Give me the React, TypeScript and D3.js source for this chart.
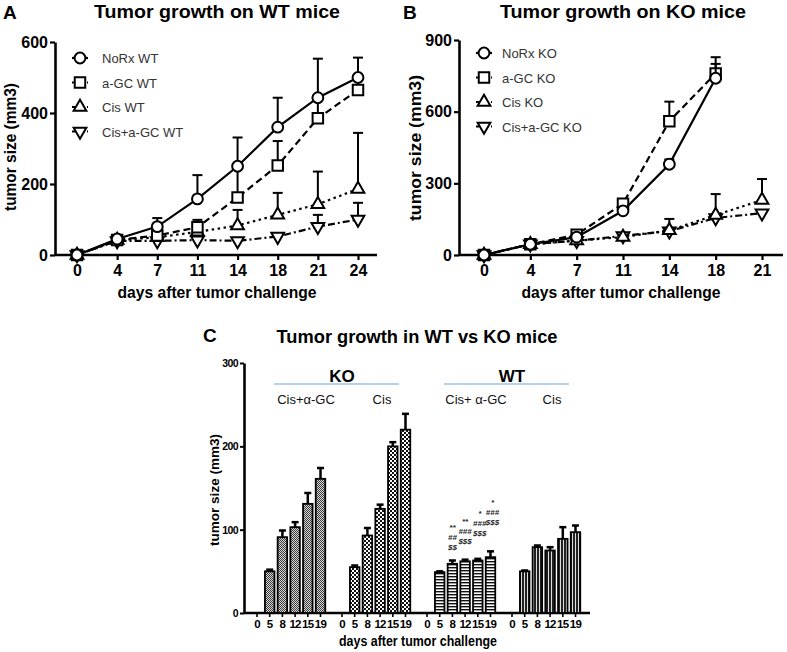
import { useEffect, useRef } from 'react';
import * as d3 from 'd3';

const FONT = 'Arial, "Liberation Sans", Helvetica, sans-serif';

// Panel A - WT mice
const daysA = ['0', '4', '7', '11', '14', '18', '21', '24'];
const namesA = ['NoRx WT', 'a-GC WT', 'Cis WT', 'Cis+a-GC WT'];
const norxWT = [0, 45, 80, 158, 250, 360, 443, 500];
const norxWTErr = [0, 4, 24, 67, 81, 83, 110, 56];
const agcWT = [0, 42, 55, 78, 162, 252, 385, 465];
const agcWTErr = [0, 4, 8, 21, 90, 69, 60, 40];
const cisWT = [0, 42, 50, 65, 83, 113, 143, 186];
const cisWTErr = [0, 3, 6, 15, 44, 62, 92, 158];
const cisAgcWT = [0, 40, 40, 42, 40, 52, 80, 100];
const cisAgcWTErr = [0, 3, 4, 5, 5, 6, 33, 47];
const ticksA = [0, 200, 400, 600];

// Panel B - KO mice
const daysB = ['0', '4', '7', '11', '14', '18', '21'];
const namesB = ['NoRx KO', 'a-GC KO', 'Cis KO', 'Cis+a-GC KO'];
const norxKO = [0, 45, 75, 185, 380, 740];
const norxKOErr = [0, 4, 10, 15, 20, 60];
const agcKO = [0, 45, 85, 215, 560, 760];
const agcKOErr = [0, 4, 10, 15, 82, 68];
const cisKO = [0, 45, 60, 75, 103, 167, 230];
const cisKOErr = [0, 4, 8, 8, 48, 88, 88];
const cisAgcKO = [0, 45, 60, 80, 100, 155, 175];
const cisAgcKOErr = [0, 4, 6, 8, 8, 10, 8];
const ticksB = [0, 300, 600, 900];

// Panel C - WT vs KO
const groupsC = ['KO Cis+α-GC', 'KO Cis', 'WT Cis+α-GC', 'WT Cis'];
const subLabelsC = ['Cis+α-GC', 'Cis', 'Cis+ α-GC', 'Cis'];
const headersC = ['KO', 'WT'];
const daysC = ['0', '5', '8', '12', '15', '19'];
const koCisAgc = [0, 50, 91, 103, 131, 161];
const koCisAgcErr = [0, 2, 8, 6, 13, 13];
const koCis = [0, 55, 93, 125, 200, 220];
const koCisErr = [0, 2, 9, 5, 5, 19];
const wtCisAgc = [0, 49, 59, 62, 63, 67];
const wtCisAgcErr = [0, 1, 4, 2, 2, 7];
const wtCis = [0, 50, 79, 75, 89, 97];
const wtCisErr = [0, 1, 2, 4, 14, 8];
const starsWT = ['', '', '**', '**', '*', '*'];
const hashWT = ['', '', '##', '###', '###', '###'];
const dollarWT = ['', '', '$$', '$$$', '$$$', '$$$'];
const sigLevelWT = [0, 0, 79, 86, 96, 109];
const ticksC = [0, 100, 200, 300];

const STYLES = [
  { symbol: 'circle', dash: null },
  { symbol: 'square', dash: '7,4' },
  { symbol: 'triUp', dash: '2.5,3.5' },
  { symbol: 'triDown', dash: '7,3,2,3' },
];

function symbolPath(kind: string) {
  if (kind === 'circle') return d3.symbol().type(d3.symbolCircle).size(92)();
  if (kind === 'square') return d3.symbol().type(d3.symbolSquare).size(110)();
  return d3.symbol().type(d3.symbolTriangle).size(70)();
}

function drawMarker(g: any, kind: string, cx: number, cy: number) {
  g.append('path')
    .attr('d', symbolPath(kind))
    .attr('transform', `translate(${cx},${cy})${kind === 'triDown' ? ' rotate(180)' : ''}`)
    .attr('fill', '#fff')
    .attr('stroke', '#000')
    .attr('stroke-width', 2);
}

function drawLinePanel(svg: any, cfg: any) {
  const x = d3.scalePoint<string>().domain(cfg.days).range(cfg.xRange);
  const yMax = cfg.ticks[cfg.ticks.length - 1];
  const y = d3.scaleLinear().domain([0, yMax]).range([cfg.bottom, cfg.top]);
  const g = svg.append('g');

  const yAxis = g.append('g')
    .attr('transform', `translate(${cfg.left},0)`)
    .call(d3.axisLeft(y).tickValues(cfg.ticks).tickSize(5).tickSizeOuter(0).tickPadding(2));
  yAxis.select('.domain').attr('stroke-width', 2.6);
  yAxis.selectAll('.tick line').attr('stroke-width', 2.2);
  yAxis.selectAll('.tick text')
    .attr('font-family', FONT).attr('font-size', 16).attr('font-weight', 'bold').attr('fill', '#000');

  g.append('line')
    .attr('x1', cfg.left).attr('x2', cfg.right)
    .attr('y1', cfg.bottom).attr('y2', cfg.bottom)
    .attr('stroke', '#000').attr('stroke-width', 2.6);
  const xAxis = g.append('g')
    .attr('transform', `translate(0,${cfg.bottom})`)
    .call(d3.axisBottom(x).tickSize(5).tickPadding(5));
  xAxis.select('.domain').remove();
  xAxis.selectAll('.tick line').attr('stroke-width', 2.2);
  xAxis.selectAll('.tick text')
    .attr('font-family', FONT).attr('font-size', 16).attr('font-weight', 'bold').attr('fill', '#000');

  [3, 2, 1, 0].forEach(si => {
    const st = STYLES[si];
    const pts = cfg.series[si].map((v: number, i: number) => ({ d: cfg.days[i], v, e: cfg.errors[si][i] }));
    const eb = g.append('g').attr('stroke', '#000').attr('stroke-width', 2);
    pts.filter((p: any) => p.e > 0).forEach((p: any) => {
      const px = x(p.d) as number;
      eb.append('line').attr('x1', px).attr('x2', px).attr('y1', y(p.v)).attr('y2', y(p.v + p.e));
      eb.append('line').attr('x1', px - 5).attr('x2', px + 5).attr('y1', y(p.v + p.e)).attr('y2', y(p.v + p.e));
    });
    g.append('path')
      .datum(pts)
      .attr('d', d3.line<any>().x(p => x(p.d) as number).y(p => y(p.v)))
      .attr('fill', 'none')
      .attr('stroke', '#000')
      .attr('stroke-width', 2.2)
      .attr('stroke-dasharray', st.dash);
    pts.forEach((p: any) => drawMarker(g, st.symbol, x(p.d) as number, y(p.v)));
  });

  cfg.names.forEach((name: string, i: number) => {
    const ly = cfg.legendY + i * 24.5;
    g.append('line')
      .attr('x1', cfg.legendX - 8).attr('x2', cfg.legendX + 8)
      .attr('y1', ly).attr('y2', ly)
      .attr('stroke', '#000').attr('stroke-width', 2.2)
      .attr('stroke-dasharray', STYLES[i].dash ? '3,2' : null);
    drawMarker(g, STYLES[i].symbol, cfg.legendX, ly);
    g.append('text')
      .attr('x', cfg.legendX + cfg.legendGap).attr('y', ly + 5)
      .attr('font-family', FONT).attr('font-size', 13).attr('fill', '#333')
      .text(name);
  });

  const t = (txt: string, xx: number, yy: number, size: number, len?: number, anchor = 'middle') => {
    const el = svg.append('text')
      .attr('x', xx).attr('y', yy)
      .attr('text-anchor', anchor)
      .attr('font-family', FONT).attr('font-size', size).attr('font-weight', 'bold')
      .text(txt);
    if (len) el.attr('textLength', len).attr('lengthAdjust', 'spacingAndGlyphs');
    return el;
  };
  t(cfg.letter, cfg.letterX, 19, 19, undefined, 'start');
  t(cfg.title, cfg.titleX, 18, 19, 246);
  t('days after tumor challenge', cfg.xTitleX, 298, 16, 199);
  svg.append('text')
    .attr('transform', `translate(${cfg.yTitleX},${cfg.yTitleY}) rotate(-90)`)
    .attr('text-anchor', 'middle')
    .attr('font-family', FONT).attr('font-size', cfg.yTitleSize).attr('font-weight', 'bold')
    .attr('textLength', cfg.yTitleLen).attr('lengthAdjust', 'spacingAndGlyphs')
    .text('tumor size (mm3)');
}

function drawBarPanel(svg: any) {
  const defs = svg.append('defs');
  const p0 = defs.append('pattern').attr('id', 'pat0').attr('patternUnits', 'userSpaceOnUse').attr('width', 2).attr('height', 2);
  p0.append('rect').attr('width', 2).attr('height', 2).attr('fill', '#d8d8d8');
  p0.append('rect').attr('width', 1).attr('height', 1).attr('fill', '#3a3a3a');
  p0.append('rect').attr('x', 1).attr('y', 1).attr('width', 1).attr('height', 1).attr('fill', '#3a3a3a');
  const p1 = defs.append('pattern').attr('id', 'pat1').attr('patternUnits', 'userSpaceOnUse').attr('width', 4).attr('height', 4);
  p1.append('rect').attr('width', 4).attr('height', 4).attr('fill', '#fff');
  p1.append('rect').attr('width', 2).attr('height', 2).attr('fill', '#111');
  p1.append('rect').attr('x', 2).attr('y', 2).attr('width', 2).attr('height', 2).attr('fill', '#111');
  const p2 = defs.append('pattern').attr('id', 'pat2').attr('patternUnits', 'userSpaceOnUse').attr('width', 4).attr('height', 3);
  p2.append('rect').attr('width', 4).attr('height', 3).attr('fill', '#fff');
  p2.append('rect').attr('width', 4).attr('height', 1.4).attr('fill', '#111');
  const p3 = defs.append('pattern').attr('id', 'pat3').attr('patternUnits', 'userSpaceOnUse').attr('width', 3).attr('height', 4);
  p3.append('rect').attr('width', 3).attr('height', 4).attr('fill', '#ddd');
  p3.append('rect').attr('width', 2).attr('height', 4).attr('fill', '#222');

  const left = 244, bottom = 613, right = 590;
  const outer = d3.scaleBand<string>().domain(groupsC).range([257, 597]);
  const inner = d3.scalePoint<string>().domain(daysC).range([0, 63.5]);
  const xc = (gi: number, d: string) => (outer(groupsC[gi]) as number) + (inner(d) as number);
  const y = d3.scaleLinear().domain([0, 300]).range([bottom, 363]);
  const g = svg.append('g');

  const yAxis = g.append('g')
    .attr('transform', `translate(${left},0)`)
    .call(d3.axisLeft(y).tickValues(ticksC).tickSize(4).tickSizeOuter(0).tickPadding(2));
  yAxis.select('.domain').attr('stroke-width', 2.6);
  yAxis.selectAll('.tick line').attr('stroke-width', 2);
  yAxis.selectAll('.tick text')
    .attr('font-family', FONT).attr('font-size', 10.5).attr('font-weight', 'bold').attr('fill', '#000')
    .attr('letter-spacing', -0.6);

  g.append('line').attr('x1', left).attr('x2', right).attr('y1', bottom).attr('y2', bottom)
    .attr('stroke', '#000').attr('stroke-width', 2.6);

  const series = [koCisAgc, koCis, wtCisAgc, wtCis];
  const errs = [koCisAgcErr, koCisErr, wtCisAgcErr, wtCisErr];
  const bw = 9.5;
  groupsC.forEach((grp, gi) => {
    daysC.forEach((d, di) => {
      const cx = xc(gi, d);
      g.append('line').attr('x1', cx).attr('x2', cx).attr('y1', bottom).attr('y2', bottom + 4)
        .attr('stroke', '#000').attr('stroke-width', 1.6);
      g.append('text').attr('x', cx).attr('y', bottom + 15).attr('text-anchor', 'middle')
        .attr('font-family', FONT).attr('font-size', 11.5).attr('font-weight', 'bold')
        .attr('letter-spacing', -0.7)
        .text(d);
      const v = series[gi][di];
      const e = errs[gi][di];
      if (v <= 0) return;
      g.append('line').attr('x1', cx).attr('x2', cx).attr('y1', y(v)).attr('y2', y(v + e))
        .attr('stroke', '#000').attr('stroke-width', 2.5);
      g.append('line').attr('x1', cx - 3.5).attr('x2', cx + 3.5).attr('y1', y(v + e)).attr('y2', y(v + e))
        .attr('stroke', '#000').attr('stroke-width', 2.5);
      g.append('rect')
        .attr('x', cx - bw / 2).attr('y', y(v))
        .attr('width', bw).attr('height', bottom - y(v))
        .attr('fill', `url(#pat${gi})`)
        .attr('stroke', '#000').attr('stroke-width', 1.8);
    });
    const sx = (outer(grp) as number) + (subLabelsC[gi].length > 4 ? 49 : 40);
    g.append('text').attr('x', sx).attr('y', 404).attr('text-anchor', 'middle')
      .attr('font-family', FONT).attr('font-size', 13).attr('fill', '#111')
      .text(subLabelsC[gi]);
  });

  headersC.forEach((h, hi) => {
    const start = outer(groupsC[hi * 2]) as number;
    g.append('line').attr('x1', start + 17).attr('x2', start + 142).attr('y1', 384).attr('y2', 384)
      .attr('stroke', '#9dc3e6').attr('stroke-width', 1.5);
    g.append('text').attr('x', start + 85).attr('y', 382).attr('text-anchor', 'middle')
      .attr('font-family', FONT).attr('font-size', 17).attr('font-weight', 'bold')
      .text(h);
  });

  // significance marks over WT Cis+a-GC bars
  daysC.forEach((d, di) => {
    if (!dollarWT[di]) return;
    const cx = xc(2, d) + (di > 3 ? 2 : 0);
    const base = y(sigLevelWT[di]);
    [dollarWT[di], hashWT[di], starsWT[di]].forEach((s, k) => {
      g.append('text').attr('x', cx).attr('y', base + 3 - k * 10).attr('text-anchor', 'middle')
        .attr('font-family', FONT).attr('font-size', 8).attr('font-weight', 'bold')
        .attr('font-style', 'italic').attr('fill', '#222')
        .text(s);
    });
  });

  svg.append('text').attr('x', 203).attr('y', 342)
    .attr('font-family', FONT).attr('font-size', 19).attr('font-weight', 'bold').text('C');
  svg.append('text').attr('x', 417).attr('y', 343).attr('text-anchor', 'middle')
    .attr('font-family', FONT).attr('font-size', 18).attr('font-weight', 'bold')
    .attr('textLength', 281).attr('lengthAdjust', 'spacingAndGlyphs')
    .text('Tumor growth in WT vs KO mice');
  svg.append('text').attr('x', 418).attr('y', 646).attr('text-anchor', 'middle')
    .attr('font-family', FONT).attr('font-size', 14).attr('font-weight', 'bold')
    .attr('textLength', 158).attr('lengthAdjust', 'spacingAndGlyphs')
    .text('days after tumor challenge');
  svg.append('text')
    .attr('transform', 'translate(219,490) rotate(-90)')
    .attr('text-anchor', 'middle')
    .attr('font-family', FONT).attr('font-size', 12.5).attr('font-weight', 'bold')
    .attr('textLength', 112).attr('lengthAdjust', 'spacingAndGlyphs')
    .text('tumor size (mm3)');
}

export default function App() {
  const svgRef = useRef<SVGSVGElement>(null);

  useEffect(() => {
    const svg = d3.select(svgRef.current);
    svg.selectAll('*').remove();

    drawLinePanel(svg, {
      days: daysA, names: namesA, ticks: ticksA,
      series: [norxWT, agcWT, cisWT, cisAgcWT],
      errors: [norxWTErr, agcWTErr, cisWTErr, cisAgcWTErr],
      left: 55, right: 377, top: 42, bottom: 255, xRange: [77, 358],
      legendX: 80, legendY: 58, legendGap: 22,
      letter: 'A', letterX: 3, title: 'Tumor growth on WT mice', titleX: 217,
      xTitleX: 217,
      yTitleX: 16, yTitleY: 147, yTitleSize: 16, yTitleLen: 128,
    });

    drawLinePanel(svg, {
      days: daysB, names: namesB, ticks: ticksB,
      series: [norxKO, agcKO, cisKO, cisAgcKO],
      errors: [norxKOErr, agcKOErr, cisKOErr, cisAgcKOErr],
      left: 459, right: 783, top: 40, bottom: 255, xRange: [484, 762],
      legendX: 484, legendY: 53, legendGap: 18,
      letter: 'B', letterX: 403, title: 'Tumor growth on KO mice', titleX: 623,
      xTitleX: 621,
      yTitleX: 421, yTitleY: 148, yTitleSize: 17, yTitleLen: 146,
    });

    drawBarPanel(svg);
  }, []);

  return (
    <div style={{ position: 'absolute', left: 0, top: 0 }}>
      <svg ref={svgRef} width={787} height={652} style={{ display: 'block', background: '#fff' }} />
    </div>
  );
}
